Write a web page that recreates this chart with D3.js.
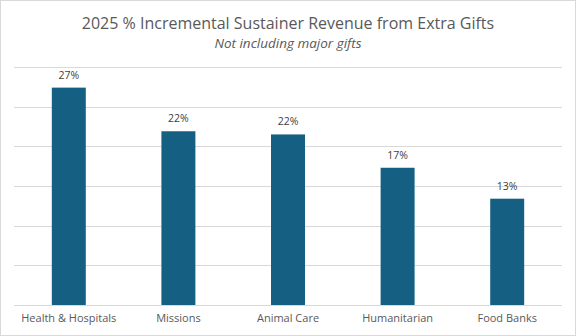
<!DOCTYPE html>
<html>
<head>
<meta charset="utf-8">
<script src="https://cdn.jsdelivr.net/npm/d3@7"></script>
<style>
  body { margin: 0; background: #fff; }
  svg { display: block; font-family: "Open Sans", sans-serif; }
</style>
</head>
<body>
<svg id="chart" width="576" height="336"></svg>
<script>
// chart data
var categories = ["Health & Hospitals", "Missions", "Animal Care", "Humanitarian", "Food Banks"];
var values = [0.274, 0.219, 0.215, 0.173, 0.134];
var gridTicks = [0, 0.05, 0.10, 0.15, 0.20, 0.25, 0.30];

var svg = d3.select("#chart"),
    width = +svg.attr("width"),
    height = +svg.attr("height");

var margin = {top: 67, right: 14, bottom: 31, left: 14};

// outer border
svg.append("rect")
  .attr("x", 0.5).attr("y", 0.5)
  .attr("width", width - 1).attr("height", height - 1)
  .attr("fill", "#fff")
  .attr("stroke", "#d9d9d9");

var x = d3.scaleBand()
  .domain(categories)
  .range([margin.left, width - margin.right])
  .paddingInner(0.69)
  .paddingOuter(0.345);

var y = d3.scaleLinear()
  .domain([0, 0.30])
  .range([height - margin.bottom, margin.top]);

// gridlines
svg.append("g")
  .selectAll("line")
  .data(gridTicks)
  .enter()
  .append("line")
    .attr("x1", margin.left)
    .attr("x2", width - margin.right)
    .attr("y1", d => Math.round(y(d)) + 0.5)
    .attr("y2", d => Math.round(y(d)) + 0.5)
    .attr("stroke", "#d9d9d9")
    .attr("stroke-width", 1);

// bars
svg.append("g")
  .selectAll("rect")
  .data(values)
  .enter()
  .append("rect")
    .attr("x", (d, i) => x(categories[i]))
    .attr("y", d => y(d))
    .attr("width", x.bandwidth())
    .attr("height", d => y(0) - y(d))
    .attr("fill", "#156082");

// value labels
svg.append("g")
  .selectAll("text")
  .data(values)
  .enter()
  .append("text")
    .attr("x", (d, i) => x(categories[i]) + x.bandwidth() / 2)
    .attr("y", d => y(d) - 9)
    .attr("text-anchor", "middle")
    .attr("font-size", 10.5)
    .attr("fill", "#404040")
    .text(d => d3.format(".0%")(d));

// category axis
var xAxis = svg.append("g")
  .attr("transform", "translate(0," + y(0) + ")")
  .call(d3.axisBottom(x).tickSize(0).tickPadding(9));
xAxis.select(".domain").remove();
xAxis.selectAll("text")
  .attr("font-size", 11)
  .attr("font-family", "Open Sans, sans-serif")
  .attr("fill", "#595959");

// titles
svg.append("text")
  .attr("x", width / 2)
  .attr("y", 28.5)
  .attr("text-anchor", "middle")
  .attr("font-size", 16)
  .attr("fill", "#595959")
  .text("2025 % Incremental Sustainer Revenue from Extra Gifts");

svg.append("text")
  .attr("x", width / 2)
  .attr("y", 48)
  .attr("text-anchor", "middle")
  .attr("font-size", 13.5)
  .attr("font-style", "italic")
  .attr("fill", "#595959")
  .text("Not including major gifts");
</script>
</body>
</html>
